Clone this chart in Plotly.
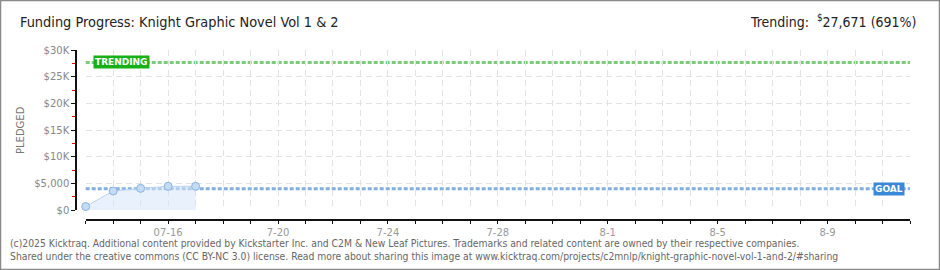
import plotly.graph_objects as go
import pandas as pd

# ---- data ----
dates = ["2025-07-13", "2025-07-14", "2025-07-15", "2025-07-16", "2025-07-17"]
pledged = [650, 3560, 4060, 4440, 4440]
goal = 4000
trending = 27671
trending_pct = 691
x_start = "2025-07-13"
x_end = "2025-08-12"
y_tickvals = [0, 5000, 10000, 15000, 20000, 25000, 30000]
y_ticktext = ["$0", "$5,000", "$10K", "$15K", "$20K", "$25K", "$30K"]
label_dates = ["2025-07-16", "2025-07-20", "2025-07-24", "2025-07-28", "2025-08-01", "2025-08-05", "2025-08-09"]
label_text = ["07-16", "7-20", "7-24", "7-28", "8-1", "8-5", "8-9"]
title_text = "Funding Progress: Knight Graphic Novel Vol 1 & 2"
footer1 = "(c)2025 Kicktraq. Additional content provided by Kickstarter Inc. and C2M & New Leaf Pictures. Trademarks and related content are owned by their respective companies."
footer2 = "Shared under the creative commons (CC BY-NC 3.0) license. Read more about sharing this image at www.kicktraq.com/projects/c2mnlp/knight-graphic-novel-vol-1-and-2/#sharing"

# ---- geometry (pixels) ----
W, H = 940, 270
ML, MR, MT, MB = 76, 30, 50, 50
PW = W - ML - MR
PH = H - MT - MB
def px(xp):  # pixel x -> paper
    return (xp - ML) / PW
def py(yp):  # pixel y -> paper
    return (H - MB - yp) / PH

all_days = pd.date_range(x_start, x_end, freq="D")
lab = dict(zip(pd.to_datetime(label_dates), label_text))
tick_vals = list(all_days)
tick_text = [lab.get(d, "") for d in all_days]

font_main = "DejaVu Sans Condensed, Liberation Sans, sans-serif"

fig = go.Figure()
fig.add_trace(go.Scatter(
    x=pd.to_datetime(dates), y=pledged, mode="lines+markers",
    line=dict(color="#b9d3f0", width=1),
    fill="tozeroy", fillcolor="rgba(214,230,249,0.55)",
    marker=dict(size=8, color="#c3dbf5", line=dict(color="#8db3e2", width=1)),
    cliponaxis=False, hoverinfo="skip", showlegend=False,
))

fig.update_layout(
    width=W, height=H,
    margin=dict(l=ML, r=MR, t=MT, b=MB),
    paper_bgcolor="white", plot_bgcolor="white",
    title=dict(text=title_text, x=20 / W, y=1 - 22 / H, xref="container", yref="container",
               xanchor="left", yanchor="middle",
               font=dict(family=font_main, size=14.4, color="#222")),
    xaxis=dict(
        domain=[px(85.7), 1], range=[pd.Timestamp(x_start), pd.Timestamp(x_end)],
        anchor="free", position=0,
        tickmode="array", tickvals=tick_vals, ticktext=tick_text,
        ticks="outside", ticklen=3, tickcolor="#111", tickwidth=1,
        showline=True, linecolor="#111", linewidth=1.5,
        showgrid=True, gridcolor="#e3e3e3", griddash="6px,4px", gridwidth=1,
        zeroline=False,
        tickfont=dict(family="DejaVu Sans", size=10, color="#999"),
    ),
    yaxis=dict(
        domain=[10 / PH, 1], range=[0, 30000],
        anchor="free", position=0,
        tickmode="array", tickvals=y_tickvals, ticktext=y_ticktext,
        ticks="outside", ticklen=4, tickcolor="#111", tickwidth=1,
        minor=dict(dtick=2500, tick0=0, ticks="outside", ticklen=3, tickcolor="#e00000", showgrid=False),
        showline=True, linecolor="#111", linewidth=1.5,
        showgrid=True, gridcolor="#e3e3e3", griddash="6px,4px", gridwidth=1,
        zeroline=False,
        tickfont=dict(family="DejaVu Sans", size=10, color="#888"),
    ),
)

# goal and trending lines
fig.add_shape(type="line", xref="paper", yref="y", x0=px(85.7), x1=1, y0=trending, y1=trending,
              line=dict(color="#7ccc7c", width=3, dash="4px,2px"), layer="between")
fig.add_shape(type="line", xref="paper", yref="y", x0=px(85.7), x1=1, y0=goal, y1=goal,
              line=dict(color="#83aee0", width=3, dash="4px,2px"), layer="between")

fig.add_annotation(x=px(93), y=trending, xref="paper", yref="y", xanchor="left", yanchor="middle",
                   text="<b>TRENDING</b>", showarrow=False, bgcolor="#17b017", borderpad=1,
                   font=dict(family="DejaVu Sans", size=9, color="white"))
fig.add_annotation(x=px(905), y=goal, xref="paper", yref="y", xanchor="right", yanchor="middle",
                   text="<b>GOAL</b>", showarrow=False, bgcolor="#3a88d8", borderpad=1,
                   font=dict(family="DejaVu Sans", size=9, color="white"))

# header right
fig.add_annotation(x=px(918), y=py(21), xref="paper", yref="paper", xanchor="right", yanchor="middle",
                   text=f"Trending:  <sup>$</sup>{trending:,} ({trending_pct}%)", showarrow=False,
                   font=dict(family=font_main, size=14, color="#222"))

# y axis title
fig.add_annotation(x=px(20), y=py(130), xref="paper", yref="paper", xanchor="center", yanchor="middle",
                   text="PLEDGED", textangle=-90, showarrow=False,
                   font=dict(family="DejaVu Sans", size=10, color="#777"))

# footer
fig.add_annotation(x=px(8), y=py(243), xref="paper", yref="paper", xanchor="left", yanchor="middle",
                   text=footer1, showarrow=False, font=dict(family=font_main, size=10.3, color="#666"))
fig.add_annotation(x=px(8), y=py(256), xref="paper", yref="paper", xanchor="left", yanchor="middle",
                   text=footer2, showarrow=False, font=dict(family=font_main, size=10.3, color="#666"))

# outer border
fig.add_shape(type="rect", xref="paper", yref="paper", x0=px(0.5), x1=px(W - 0.5), y0=py(H - 0.5), y1=py(0.5),
              line=dict(color="#8a8a8a", width=1.5), fillcolor="rgba(0,0,0,0)", layer="above")

fig.write_html("out.html", config={"displayModeBar": False})
